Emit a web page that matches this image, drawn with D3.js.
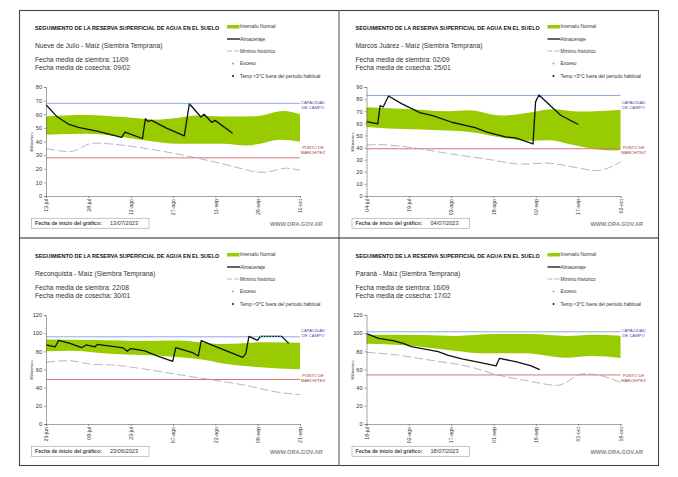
<!DOCTYPE html>
<html>
<head>
<meta charset="utf-8">
<script src="https://cdn.jsdelivr.net/npm/d3@7"></script>
<style>
    html, body { margin: 0; padding: 0; background: #fff; }
    svg { display: block; font-family: "Liberation Sans", Arial, sans-serif; }
</style>
</head>
<body>
<div id="chart"></div>
<script>
// Values. Days count from the start date of each chart.

var titles = ["Nueve de Julio - Maíz (Siembra Temprana)", "Marcos Juárez - Maíz (Siembra Temprana)",
    "Reconquista - Maíz (Siembra Temprana)", "Paraná - Maíz (Siembra Temprana)"];
var sowing = ["11/09", "02/09", "22/08", "16/09"];
var harvest = ["09/02", "25/01", "30/01", "17/02"];
var startDates = ["13/07/2023", "04/07/2023", "23/06/2023", "18/07/2023"];
var yMax = [80, 90, 120, 120];
var yStep = [10, 10, 20, 20];
var fieldCapacity = [68, 83, 96, 101.5];
var wiltingPoint = [28, 39, 49, 54];

var tickLabels = [
    ["13-jul", "28-jul", "12-ago", "27-ago", "11-sep", "26-sep", "11-oct"],
    ["04-jul", "19-jul", "03-ago", "18-ago", "02-sep", "17-sep", "02-oct"],
    ["23-jun", "08-jul", "23-jul", "07-ago", "22-ago", "06-sep", "21-sep"],
    ["18-jul", "02-ago", "17-ago", "01-sep", "16-sep", "01-oct", "16-oct"]
];
var tickDays = [0, 15, 30, 45, 60, 75, 90];

// [day, mm]
var storage1 = [[0,67],[3.8,58.4],[7.9,52.8],[11.5,50.3],[18.5,47.4],[26.8,43],[28,46.9],[34.2,42.2],[35.2,56.7],[36.2,54.7],[37.4,55.5],[42.7,49.8],[49,44.2],[50.8,67.7],[54.9,58],[56,60],[58.8,54],[59.9,55.5],[66.1,46.1]];
var upper1 = [[0,58.4],[14.4,59.4],[27.4,57.9],[39.2,56],[46.3,57.2],[53.4,59],[62.8,58.4],[74.6,58.6],[84.1,62.3],[90,60]];
var lower1 = [[0,45],[14.4,45.6],[27.4,43.2],[38,40],[46.3,38.3],[62.8,38.3],[71.1,37],[75.8,38.3],[82.9,41.2],[90,39.8]];
var minimum1 = [[0,34.8],[8.5,32.6],[16.8,38.8],[29.8,36.6],[38,34],[51,29],[62.8,23.5],[77,17.4],[85.3,20.4],[90,18.9]];
var excess1 = [[51,67.7]];

var storage2 = [[0,61.5],[4,59.5],[4.8,74.6],[5.9,73.5],[7.8,82.6],[12.4,76.3],[18.9,68.9],[23.7,66.1],[30.2,60.9],[38.5,56.5],[42.7,52.7],[49.2,48.8],[52.8,48],[59,43],[59.9,77.7],[61.1,83.4],[68.8,66.7],[71.8,63],[75.1,59]];
var upper2 = [[0,73.3],[15.9,71.6],[29,70],[36.2,70.8],[48,66.4],[58.7,69.2],[65.9,71.6],[75.4,69.7],[90,71.3]];
var lower2 = [[0,57],[7.6,55.7],[19.5,54.9],[37.3,52.7],[49.2,47.7],[57.5,45.6],[64.7,46],[73,42.3],[81.3,38.7],[88.5,37.6],[90,38]];
var minimum2 = [[0,42],[4,42.5],[15.9,40],[29,35.1],[43.3,30.2],[55.2,26.3],[63.5,27.2],[75.4,23],[81.3,20.9],[90,28]];
var excess2 = [[60.6,82.5]];

var storage3 = [[0,87],[3.2,84.8],[4.5,92],[8.5,88.8],[12.6,84],[14.2,87],[17.4,85],[18.2,87.7],[27.4,83.7],[28.8,80],[30,83],[35,80.4],[39.8,74.5],[44.9,69],[46,84],[52.2,78.2],[54,74.9],[55,91.7],[60.4,84.8],[69.7,73.4],[70.8,77.4],[71.9,96.5],[74.9,92],[76,96.5],[83.5,96.5],[86,88.8]];
var upper3 = [[0,93],[16.8,92.5],[34.5,91.4],[46.3,92],[62.8,88],[78.2,90],[90,89.5]];
var lower3 = [[0,80],[8.5,80.7],[22.7,77.4],[34.5,76],[46.3,73.8],[54.6,71.2],[64,66],[74.6,62.8],[90,60.2]];
var minimum3 = [[0,67.9],[7.9,69.7],[15.6,66],[25,64.6],[34.5,60.6],[46.3,54.7],[59.3,48.4],[69.9,43],[81.7,35.2],[90,32.3]];
var excess3 = [[76,96.5],[77,96.5],[78,96.5],[79,96.5],[80,96.5],[81,96.5],[82,96.5],[83,96.5]];

var storage4 = [[0,99.4],[4.3,94.3],[9.4,91.7],[13,88.8],[15.9,85.1],[25.4,79.6],[29,75.6],[33.8,71.6],[40.9,67.2],[45.9,63.9],[47.1,72.3],[52.8,68.6],[58.1,64.2],[61.4,59.8]];
var upper4 = [[0,98.3],[19.5,98],[31.4,96.9],[45.6,99],[58.7,99],[70.6,96.9],[80,98.3],[90,97.2]];
var lower4 = [[0,88.4],[13.6,86.6],[30.2,81],[40.9,78],[56.3,77.8],[70.6,73],[80,74.9],[90,72.7]];
var minimum4 = [[0,78.9],[8.8,76.7],[23.1,70],[37.3,62.4],[45.6,54.7],[57.5,47.3],[67.6,42.6],[77.1,55.4],[82.4,53.6],[90,45.9]];
var excess4 = [];

var storages = [storage1, storage2, storage3, storage4];
var uppers = [upper1, upper2, upper3, upper4];
var lowers = [lower1, lower2, lower3, lower4];
var minimums = [minimum1, minimum2, minimum3, minimum4];
var excesses = [excess1, excess2, excess3, excess4];

var mainTitle = "SEGUIMIENTO DE LA RESERVA SUPERFICIAL DE AGUA EN EL SUELO";
var legendLabels = ["Intervalo Normal", "Almacenaje", "Mínimo histórico", "Exceso", "Temp <3°C fuera del período habitual"];

var width = 678, height = 477;
var panelDx = [0, 320.5, 0, 320.5];
var panelDy = [0, 0, 228, 228];

var svg = d3.select("#chart").append("svg")
    .attr("width", width)
    .attr("height", height);

svg.append("rect").attr("width", width).attr("height", height).attr("fill", "#fff");

// Frame around the four panels
var frame = svg.append("g").attr("fill", "none");
frame.append("rect").attr("x", 19.5).attr("y", 10.5).attr("width", 639).attr("height", 455)
    .attr("stroke", "#444").attr("stroke-width", 1.1);
frame.append("line").attr("x1", 339).attr("x2", 339).attr("y1", 10.5).attr("y2", 465.5)
    .attr("stroke", "#777").attr("stroke-width", 1.3);
frame.append("line").attr("x1", 19.5).attr("x2", 658.5).attr("y1", 238).attr("y2", 238)
    .attr("stroke", "#222").attr("stroke-width", 1);

function drawPanel(i) {

    var g = svg.append("g").attr("transform", "translate(" + panelDx[i] + "," + panelDy[i] + ")");

    var x = d3.scaleLinear().domain([0, 90]).range([46, 300]);
    var y = d3.scaleLinear().domain([0, yMax[i]]).range([196, 87]);

    // Heading
    g.append("text").attr("x", 35).attr("y", 30.3)
        .attr("font-size", 5.45).attr("font-weight", "bold").attr("fill", "#111").text(mainTitle);
    g.append("text").attr("x", 35).attr("y", 48)
        .attr("font-size", 6.7).attr("fill", "#333").text(titles[i]);
    g.append("text").attr("x", 35).attr("y", 62.3)
        .attr("font-size", 6.7).attr("fill", "#333").text("Fecha media de siembra: " + sowing[i]);
    g.append("text").attr("x", 35).attr("y", 69.6)
        .attr("font-size", 6.7).attr("fill", "#333").text("Fecha media de cosecha: " + harvest[i]);

    // Legend
    g.append("rect").attr("x", 227).attr("y", 25).attr("width", 12.5).attr("height", 3.5).attr("fill", "#99cc00");
    g.append("line").attr("x1", 227).attr("x2", 240).attr("y1", 39).attr("y2", 39)
        .attr("stroke", "#111").attr("stroke-width", 1.3);
    g.append("line").attr("x1", 227).attr("x2", 240).attr("y1", 51).attr("y2", 51)
        .attr("stroke", "#999").attr("stroke-width", 0.7).attr("stroke-dasharray", "5,2");
    g.append("circle").attr("cx", 233).attr("cy", 63.5).attr("r", 1).attr("fill", "#33ccdd");
    g.append("circle").attr("cx", 233).attr("cy", 76).attr("r", 1).attr("fill", "#000099");

    var legendY = [28.3, 40.5, 52.5, 65, 77.5];
    legendLabels.forEach(function(label, k) {
        g.append("text").attr("x", 240).attr("y", legendY[k])
            .attr("font-size", 4.85).attr("fill", "#333").text(label);
    });

    // Normal band
    var band = d3.line().x(function(d) { return x(d[0]); }).y(function(d) { return y(d[1]); })
        .curve(d3.curveMonotoneX);
    var upperPath = band(uppers[i]);
    var lowerPath = band(lowers[i].slice().reverse());
    g.append("path").attr("d", upperPath + "L" + lowerPath.slice(1) + "Z").attr("fill", "#99cc00");

    // Reference lines
    g.append("line").attr("x1", x(0)).attr("x2", x(90))
        .attr("y1", y(fieldCapacity[i])).attr("y2", y(fieldCapacity[i]))
        .attr("stroke", "#8fa8e6").attr("stroke-width", 1);
    g.append("line").attr("x1", x(0)).attr("x2", x(90))
        .attr("y1", y(wiltingPoint[i])).attr("y2", y(wiltingPoint[i]))
        .attr("stroke", "#d67676").attr("stroke-width", 1);

    // Historic minimum
    g.append("path").attr("d", band(minimums[i])).attr("fill", "none")
        .attr("stroke", "#999").attr("stroke-width", 0.7).attr("stroke-dasharray", "9,3");

    // Storage
    var line = d3.line().x(function(d) { return x(d[0]); }).y(function(d) { return y(d[1]); });
    g.append("path").attr("d", line(storages[i])).attr("fill", "none")
        .attr("stroke", "#111").attr("stroke-width", 1.3).attr("stroke-linejoin", "round");

    // Excess points
    g.selectAll("circle.excess").data(excesses[i]).enter().append("circle")
        .attr("class", "excess")
        .attr("cx", function(d) { return x(d[0]); })
        .attr("cy", function(d) { return y(d[1]); })
        .attr("r", 0.8)
        .attr("fill", "#33ccdd");

    // Axes
    var yAxis = d3.axisLeft(y).tickValues(d3.range(0, yMax[i] + 1, yStep[i])).tickSize(2).tickPadding(2);
    var yG = g.append("g").attr("transform", "translate(" + x(0) + ",0)").call(yAxis);
    yG.selectAll("text").attr("font-size", 5.6).attr("fill", "#333").attr("font-family", "Liberation Sans");
    yG.selectAll("line, path").attr("stroke", "#666").attr("stroke-width", 0.6);

    var xAxis = d3.axisBottom(x).tickValues(tickDays)
        .tickFormat(function(d, k) { return tickLabels[i][k]; }).tickSize(2).tickPadding(1);
    var xG = g.append("g").attr("transform", "translate(0," + y(0) + ")").call(xAxis);
    xG.selectAll("text")
        .attr("font-size", 5.2).attr("fill", "#333").attr("font-family", "Liberation Sans")
        .attr("text-anchor", "end")
        .attr("transform", "rotate(-90)")
        .attr("x", -3).attr("y", 0).attr("dy", "0.35em");
    xG.selectAll("line, path").attr("stroke", "#666").attr("stroke-width", 0.6);

    g.append("text").attr("transform", "translate(33,142) rotate(-90)")
        .attr("text-anchor", "middle").attr("font-size", 4.1).attr("fill", "#333").text("Milímetros");

    // Right hand labels
    [["CAPACIDAD", 103.5, "#4a4aa8"], ["DE  CAMPO", 108.8, "#4a4aa8"],
     ["PUNTO  DE", 149, "#b03a3a"], ["MARCHITEZ", 154, "#b03a3a"]].forEach(function(t) {
        g.append("text").attr("x", 313).attr("y", t[1]).attr("text-anchor", "middle")
            .attr("font-size", 4.2).attr("fill", t[2]).text(t[0]);
    });

    // Start date box and source
    g.append("rect").attr("x", 31.5).attr("y", 218.3).attr("width", 117.5).attr("height", 10)
        .attr("fill", "#fff").attr("stroke", "#bfa5a5").attr("stroke-width", 0.7);
    g.append("text").attr("x", 35).attr("y", 225.3).attr("font-size", 5.2).attr("font-weight", "bold")
        .attr("fill", "#444").text("Fecha de inicio del gráfico:");
    g.append("text").attr("x", 110).attr("y", 225.3).attr("font-size", 5.6)
        .attr("fill", "#333").text(startDates[i]);
    g.append("text").attr("x", 270).attr("y", 226.2).attr("font-size", 5.6).attr("font-weight", "bold")
        .attr("fill", "#888").text("WWW.ORA.GOV.AR");
}

d3.range(4).forEach(drawPanel);
</script>
</body>
</html>
